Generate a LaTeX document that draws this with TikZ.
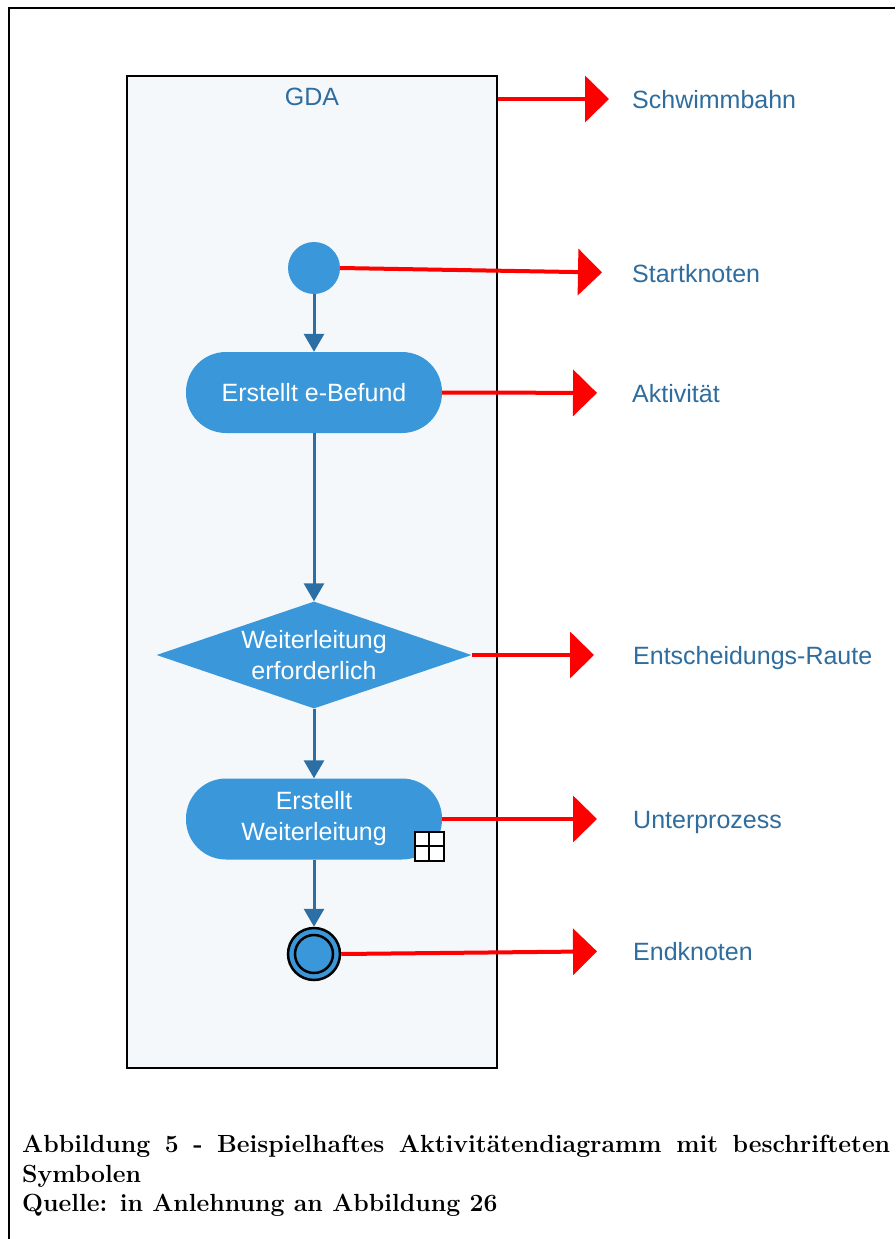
\documentclass[tikz,border=0pt]{standalone}
\usepackage{fontspec}
\newfontfamily\uifont{Liberation Sans}
\usetikzlibrary{arrows.meta,shapes.geometric}

\definecolor{lanefill}{HTML}{F4F8FB}
\definecolor{nodeblue}{HTML}{3A98DA}
\definecolor{flowblue}{HTML}{2B6FA5}
\definecolor{labelblue}{HTML}{2E6D9E}
\definecolor{markred}{HTML}{FF0000}

\tikzset{
  ui/.style={font=\uifont\fontsize{25}{31}\selectfont},
  lane/.style={draw=black, line width=2pt, fill=lanefill, minimum width=370pt,
    minimum height=992pt, inner sep=0pt},
  lanetitle/.style={ui, text=labelblue, inner sep=0pt},
  startnode/.style={circle, fill=nodeblue, minimum size=52pt, inner sep=0pt},
  actbox/.style={ui, text=white, fill=nodeblue, rectangle, rounded corners=40pt,
    minimum width=256pt, minimum height=81pt, align=center, inner sep=0pt},
  decision/.style={ui, text=white, fill=nodeblue, diamond, aspect=2.94,
    minimum width=315pt, minimum height=107pt, inner sep=0pt, align=center},
  subicon/.style={draw=black, line width=2pt, fill=white, minimum size=29pt,
    inner sep=0pt,
    path picture={
      \draw[line width=2pt] (path picture bounding box.north) -- (path picture bounding box.south);
      \draw[line width=2pt] (path picture bounding box.west) -- (path picture bounding box.east);
    }},
  endnode/.style={circle, fill=nodeblue, draw=black, line width=2.5pt,
    minimum size=52pt, inner sep=0pt,
    path picture={\draw[black, line width=2.5pt] (path picture bounding box.center) circle (19pt);}},
  flow/.style={draw=flowblue, line width=3pt, -{Triangle[length=18pt,width=20pt]}},
  pointer/.style={draw=markred, line width=4pt, -{Triangle[length=24pt,width=46pt]}},
  tag/.style={ui, text=labelblue, anchor=west, inner sep=0pt, text height=18pt, text depth=0pt},
  frameline/.style={draw=black, line width=2.5pt},
}

\begin{document}
\begin{tikzpicture}[x=1pt,y=-1pt]
  \useasboundingbox (0,0) rectangle (895,1239);
  \fill[white] (0,0) rectangle (895,1239);

  % page frame (left and top edges)
  \draw[frameline] (9,1239) -- (9,8) -- (895,8);

  % swimlane
  \node[lane] (lane) at (312,572) {};
  \node[lanetitle] (gda) at (312,97) {GDA};

  % activity flow
  \node[startnode] (start) at (314,268) {};
  \node[actbox] (act) at (314,392.5) {Erstellt e-Befund};
  \node[decision] (dec) at (314,655) {Weiterleitung\\erforderlich};
  \node[actbox] (sub) at (314,819) {Erstellt\\Weiterleitung};
  \node[subicon] (icon) at (429,846) {};
  \node[endnode] (end) at (314,954) {};

  \draw[flow] (start.south) -- (act.north);
  \draw[flow] (act.south) -- (dec.north);
  \draw[flow] (dec.south) -- (sub.north);
  \draw[flow] (sub.south) -- (end.north);

  % legend labels
  \node[tag] (tlane)  at (632,99)  {Schwimmbahn};
  \node[tag] (tstart) at (632,273) {Startknoten};
  \node[tag] (tact)   at (632,393) {Aktivität};
  \node[tag] (tdec)   at (633,655) {Entscheidungs-Raute};
  \node[tag] (tsub)   at (633,819) {Unterprozess};
  \node[tag] (tend)   at (633,951) {Endknoten};

  \draw[pointer, shorten >=23pt] (lane.east |- tlane) -- (tlane.west);
  \draw[pointer, shorten >=30pt] (start.east) -- (tstart.west);
  \draw[pointer, shorten >=35pt] (act.east) -- (tact.west);
  \draw[pointer, shorten >=39pt] (dec.east) -- (tdec.west);
  \draw[pointer, shorten >=36pt] (sub.east) -- (tsub.west);
  \draw[pointer, shorten >=36pt] (end.east) -- (tend.west);

  % caption
  \node[anchor=north west, inner sep=0pt, text width=868pt, align=justify,
        font=\fontsize{24.8}{29.5}\selectfont\bfseries] (cap) at (22,1135)
    {Abbildung 5 - Beispielhaftes Aktivitätendiagramm mit beschrifteten Symbolen\\
     Quelle: in Anlehnung an Abbildung 26};
\end{tikzpicture}
\end{document}
